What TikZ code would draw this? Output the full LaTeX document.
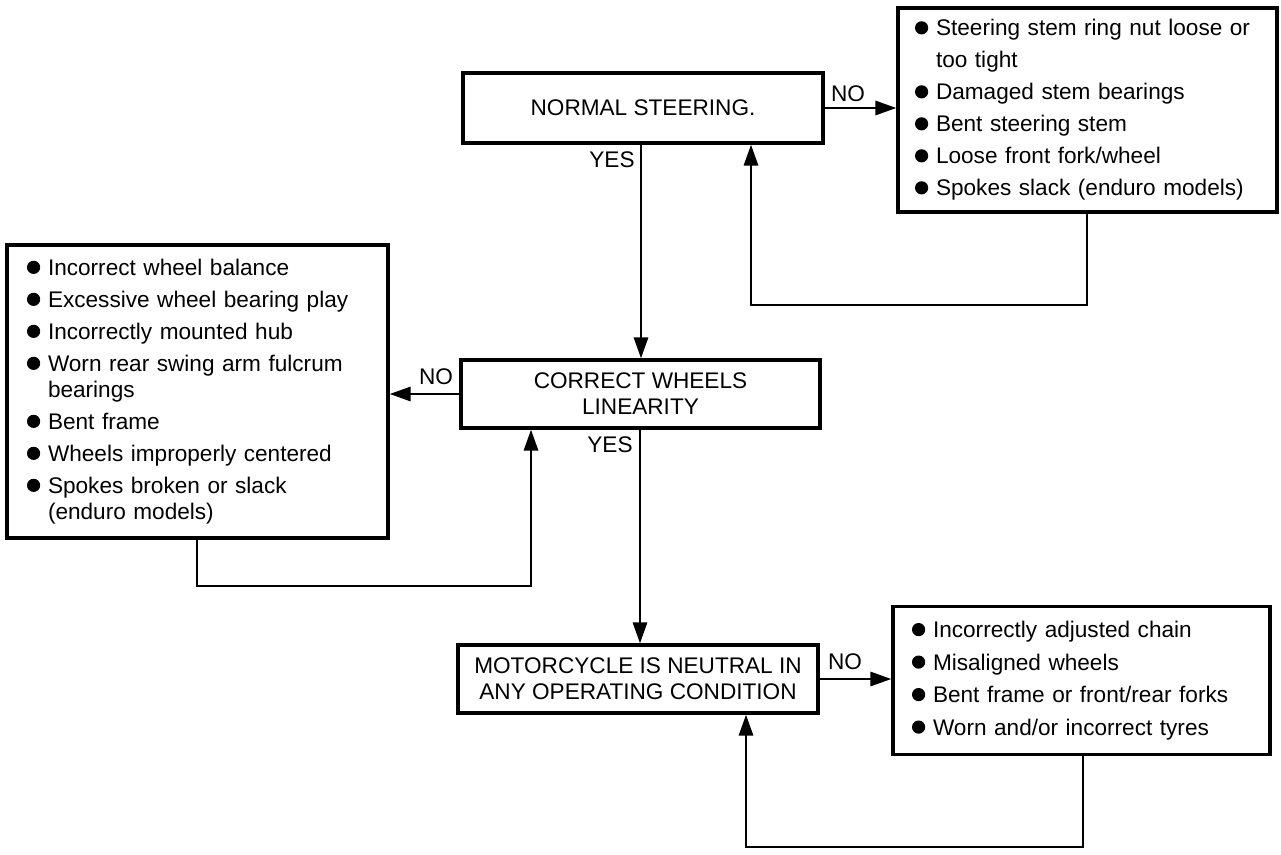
\documentclass[tikz,border=0pt]{standalone}
\usepackage{fontspec}
\setmainfont{Liberation Sans}
\usetikzlibrary{arrows.meta}

% filled round bullet used in the cause lists
\newsavebox\bulletbox
\newcommand\bul{\makebox[21pt][l]{\raisebox{1.4pt}{\usebox\bulletbox}}}
\newcommand\ind{\hspace*{21pt}}

\begin{document}
\sbox\bulletbox{\begin{pgfpicture}\pgfpathcircle{\pgfpoint{0pt}{0pt}}{6.6pt}\pgfusepath{fill}\end{pgfpicture}}%
\begin{tikzpicture}[x=1pt,y=-1pt,
  every node/.style={font=\fontsize{22.6pt}{26pt}\selectfont},
  check/.style={draw,line width=3.1pt,inner sep=0pt,align=center},
  causes/.style={draw,line width=3.1pt,inner ysep=0pt,align=left},
  lbl/.style={inner sep=0pt},
  arr/.style={line width=2.9pt,-{Triangle[length=21pt,width=14pt]}}]
\fill[white] (0,0) rectangle (1281,854);
\useasboundingbox (0,0) rectangle (1281,854);

% decision boxes
\node[check,minimum width=360pt,minimum height=70pt] (ns) at (643,108) {NORMAL STEERING.};
\node[check,minimum width=359pt,minimum height=68pt] (cw) at (640.5,394) {CORRECT WHEELS\\LINEARITY};
\node[check,minimum width=360pt,minimum height=68pt] (mc) at (638,679) {MOTORCYCLE IS NEUTRAL IN\\ANY OPERATING CONDITION};

% cause lists
\node[causes,inner xsep=17pt,text width=345pt,minimum height=204pt] (tr) at (1087.5,110) {%
\bul Steering stem ring nut loose or\\[6pt]
\ind too tight\\[6pt]
\bul Damaged stem bearings\\[6pt]
\bul Bent steering stem\\[6pt]
\bul Loose front fork/wheel\\[6pt]
\bul Spokes slack (enduro models)};

\node[causes,inner xsep=20pt,text width=341pt,minimum height=293pt] (lf) at (197.5,391.5) {%
\bul Incorrect wheel balance\\[6pt]
\bul Excessive wheel bearing play\\[6pt]
\bul Incorrectly mounted hub\\[6pt]
\bul Worn rear swing arm fulcrum\\
\ind bearings\\[6pt]
\bul Bent frame\\[6pt]
\bul Wheels improperly centered\\[6pt]
\bul Spokes broken or slack\\
\ind (enduro models)};

\node[causes,inner xsep=19pt,text width=339pt,minimum height=148pt] (br) at (1081.5,680.5) {%
\bul Incorrectly adjusted chain\\[6.5pt]
\bul Misaligned wheels\\[6.5pt]
\bul Bent frame or front/rear forks\\[6.5pt]
\bul Worn and/or incorrect tyres};

% branch labels
\node[lbl] (no1) at (848,94) {NO};
\node[lbl] (yes1) at (612,160) {YES};
\node[lbl] (no2) at (436,377) {NO};
\node[lbl] (yes2) at (610,445) {YES};
\node[lbl] (no3) at (845,662) {NO};

% main flow
\coordinate (c1) at (641,0);
\coordinate (c2) at (640,0);
\draw[arr] (c1 |- ns.south) -- (c1 |- cw.north);
\draw[arr] (c2 |- cw.south) -- (c2 |- mc.north);
\draw[arr] (ns.east) -- (ns.east -| tr.west);
\draw[arr] (cw.west) -- (cw.west -| lf.east);
\draw[arr] (mc.east) -- (mc.east -| br.west);

% return paths after repair
\coordinate (r1) at (1087,305);
\coordinate (r1b) at (751,305);
\draw[arr] (r1 |- tr.south) -- (r1) -- (r1b) -- (r1b |- ns.south);
\coordinate (r2) at (197,586);
\coordinate (r2b) at (531,586);
\draw[arr] (r2 |- lf.south) -- (r2) -- (r2b) -- (r2b |- cw.south);
\coordinate (r3) at (1083,847);
\coordinate (r3b) at (746,847);
\draw[arr] (r3 |- br.south) -- (r3) -- (r3b) -- (r3b |- mc.south);
\end{tikzpicture}
\end{document}
